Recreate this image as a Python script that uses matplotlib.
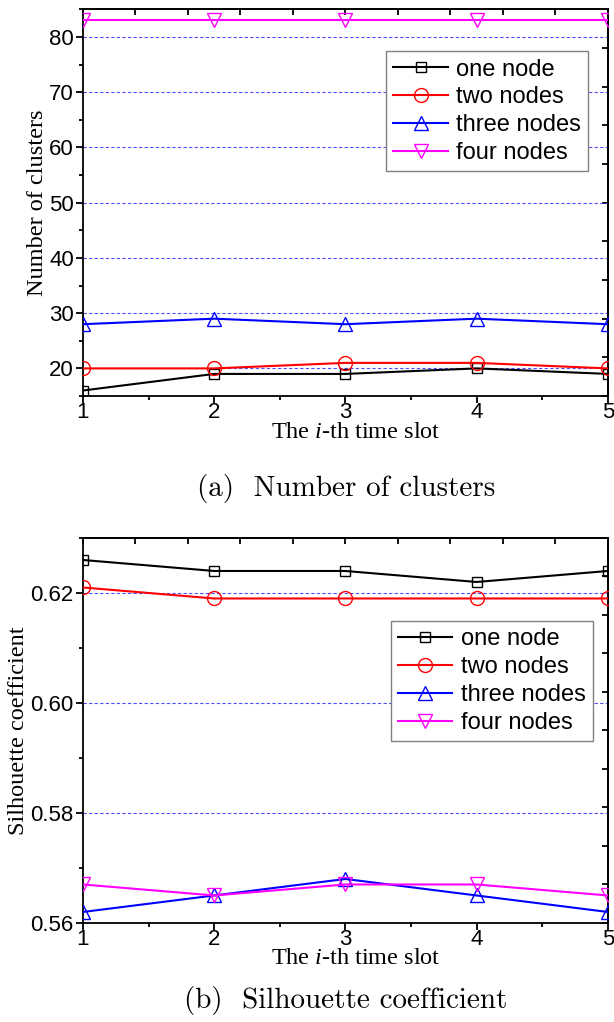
import numpy as np
import matplotlib
matplotlib.use("Agg")
import matplotlib.pyplot as plt
from matplotlib.ticker import MultipleLocator, FormatStrFormatter

# ---------------------------------------------------------------------------
# Data
# ---------------------------------------------------------------------------
slots = [1, 2, 3, 4, 5]
series_names = ["one node", "two nodes", "three nodes", "four nodes"]

clusters_one = [16, 19, 19, 20, 19]
clusters_two = [20, 20, 21, 21, 20]
clusters_three = [28, 29, 28, 29, 28]
clusters_four = [83, 83, 83, 83, 83]

sil_one = [0.626, 0.624, 0.624, 0.622, 0.624]
sil_two = [0.621, 0.619, 0.619, 0.619, 0.619]
sil_three = [0.562, 0.565, 0.568, 0.565, 0.562]
sil_four = [0.567, 0.565, 0.567, 0.567, 0.565]

COLORS = ["#000000", "#ff0000", "#0000ff", "#ff00ff"]
MARKERS = ["s", "o", "^", "v"]
MSIZES = [7.5, 10, 10, 10]

SANS = "Liberation Sans"
SERIF = "Liberation Serif"

plt.rcParams.update({
    "font.family": SANS,
    "axes.linewidth": 1.3,
    "mathtext.fontset": "custom",
    "mathtext.it": "Liberation Serif:italic",
})


def draw_panel(ax, data, ylim, ymajor, yminor, grid_vals, ylabel, legend_anchor):
    for vals, name, c, m, ms in zip(data, series_names, COLORS, MARKERS, MSIZES):
        ax.plot(slots, vals, color=c, lw=1.5, marker=m, ms=ms, mfc="none",
                mec=c, mew=1.0, label=name, zorder=3)
    for g in grid_vals:
        ax.axhline(g, color="#5050ff", lw=0.8, ls=(0, (3, 2)), zorder=1)

    ax.set_xlim(1, 5)
    ax.set_ylim(*ylim)
    ax.xaxis.set_major_locator(MultipleLocator(1))
    ax.xaxis.set_minor_locator(MultipleLocator(0.5))
    ax.yaxis.set_major_locator(MultipleLocator(ymajor))
    ax.yaxis.set_minor_locator(MultipleLocator(yminor))
    ax.tick_params(which="major", direction="out", length=5, width=1.3,
                   labelsize=16, pad=1.5)
    ax.tick_params(axis="x", which="major", pad=-1)
    ax.tick_params(which="minor", direction="out", length=3, width=1.3)

    # mirrored top/right axes: ten equal divisions, ticks pointing in
    top = ax.secondary_xaxis("top")
    top.set_xticks(np.linspace(1, 5, 11))
    top.tick_params(direction="in", length=4.5, width=1.3, labeltop=False)
    right = ax.secondary_yaxis("right")
    right.set_yticks(np.linspace(ylim[0], ylim[1], 11))
    right.tick_params(direction="in", length=4.5, width=1.3, labelright=False)

    ax.set_xlabel("The $\\mathit{i}$-th time slot", family=SERIF, fontsize=17.5)
    ax.xaxis.set_label_coords(0.52, -0.066, transform=ax.transAxes)
    ax.set_ylabel(ylabel, family=SERIF, fontsize=17.5, labelpad=1)

    leg = ax.legend(loc="upper right", bbox_to_anchor=legend_anchor,
                    fontsize=17, frameon=True, fancybox=False, framealpha=1,
                    edgecolor="#808080", handlelength=2.3, handletextpad=0.35,
                    labelspacing=0.25, borderpad=0.3, borderaxespad=0)
    leg.get_frame().set_linewidth(1.0)


fig = plt.figure(figsize=(6.14, 10.22), dpi=100)

ax1 = fig.add_axes([0.135, 0.6125, 0.855, 0.3784])
draw_panel(ax1, [clusters_one, clusters_two, clusters_three, clusters_four],
           (15, 85), 10, 5, [20, 30, 40, 50, 60, 70, 80],
           "Number of clusters", (0.962, 0.891))

ax2 = fig.add_axes([0.135, 0.0969, 0.855, 0.3767])
ax2.yaxis.set_major_formatter(FormatStrFormatter("%.2f"))
draw_panel(ax2, [sil_one, sil_two, sil_three, sil_four],
           (0.56, 0.63), 0.02, 0.01, [0.58, 0.60, 0.62],
           "Silhouette coefficient", (0.971, 0.784))

fig.text(0.563, 0.5225, "(a)  Number of clusters", family="cmr10",
         fontsize=21, ha="center", va="center")
fig.text(0.563, 0.0215, "(b)  Silhouette coefficient", family="cmr10",
         fontsize=21, ha="center", va="center")

fig.savefig("out.png", dpi=100)
